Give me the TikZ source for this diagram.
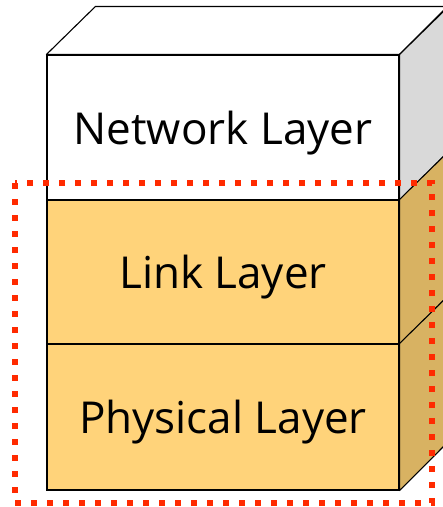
\documentclass[tikz,border=0pt]{standalone}
\usepackage{fontspec}
\setmainfont{Open Sans}
\usetikzlibrary{positioning}
\definecolor{frontColor}{RGB}{255,211,122}
\definecolor{sideColor}{RGB}{216,178,98}
\definecolor{greySide}{RGB}{217,217,217}
\definecolor{markColor}{RGB}{255,42,0}
\begin{document}
\begin{tikzpicture}[x=1pt,y=-1pt,
  layer/.style={draw, line width=1.1pt, minimum width=352pt, inner sep=0pt,
    text depth=0pt, font=\fontsize{44}{52}\selectfont},
  face/.style={draw, line width=1.1pt, line join=round},
  ]
\useasboundingbox (0,0) rectangle (443,507);

% front faces
\node [layer, fill=white, minimum height=145pt] (net) at (223,127.5) {Network Layer};
\node [layer, fill=frontColor, minimum height=144pt] (link) at (223,272) {Link Layer};
\node [layer, fill=frontColor, minimum height=146pt] (phy) at (223,417) {Physical Layer};

% top and side faces
\draw [face, fill=white] (net.north west) -- ++(49,-48) -- ++(352,0) -- (net.north east) -- cycle;
\draw [face, fill=greySide] (net.north east) -- ++(49,-48) -- ++(0,145) -- (net.south east) -- cycle;
\draw [face, fill=sideColor] (link.north east) -- ++(49,-48) -- ++(0,144) -- (link.south east) -- cycle;
\draw [face, fill=sideColor] (phy.north east) -- ++(49,-48) -- ++(0,146) -- (phy.south east) -- cycle;

% selection
\draw [markColor, line width=6pt, dash pattern=on 6pt off 10pt] (15,183) rectangle (432,503);
\end{tikzpicture}
\end{document}
